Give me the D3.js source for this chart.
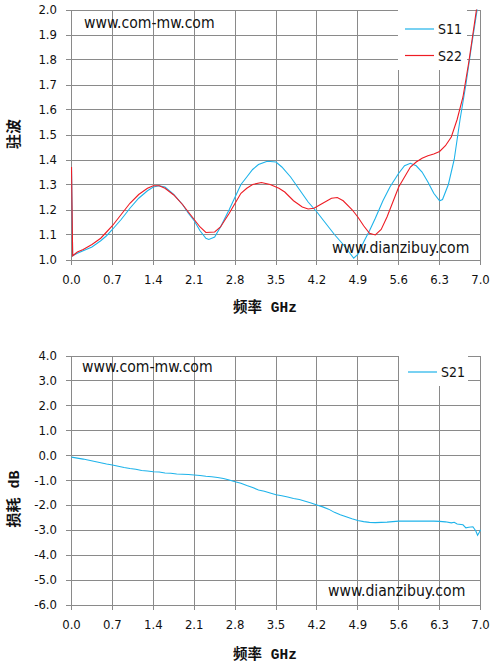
<!DOCTYPE html>
<html><head><meta charset="utf-8">
<script src="https://cdn.jsdelivr.net/npm/d3@7"></script>
<style>
html,body{margin:0;padding:0;background:#fff;}
svg{display:block;}
.lbl{font-family:"DejaVu Sans Condensed","DejaVu Sans",sans-serif;fill:#111;}
.ttl{font-family:"Liberation Mono","Noto Sans CJK SC",monospace;font-weight:bold;fill:#111;white-space:pre;}
</style></head>
<body>
<svg id="c" width="498" height="668"></svg>
<script>
// ---- data ----
const xTicks = [0.0,0.7,1.4,2.1,2.8,3.5,4.2,4.9,5.6,6.3,7.0];
const vswrTicks = [1.0,1.1,1.2,1.3,1.4,1.5,1.6,1.7,1.8,1.9,2.0];
const lossTicks = [4,3,2,1,0,-1,-2,-3,-4,-5,-6];

const s11Freq = [0,0.02,0.1,0.2,0.35,0.5,0.6,0.7,0.85,1.0,1.15,1.3,1.4,1.5,1.6,1.75,1.9,2.0,2.1,2.2,2.3,2.35,2.45,2.55,2.7,2.8,2.9,3.0,3.1,3.2,3.35,3.5,3.6,3.75,3.9,4.05,4.2,4.35,4.5,4.65,4.75,4.83,4.9,5.0,5.1,5.2,5.33,5.45,5.6,5.7,5.8,5.9,6.0,6.1,6.2,6.3,6.35,6.45,6.55,6.65,6.75,6.85,6.95,7.0];
const s11Vals = [1.37,1.015,1.025,1.035,1.05,1.075,1.095,1.12,1.16,1.205,1.245,1.275,1.29,1.295,1.29,1.26,1.22,1.185,1.155,1.115,1.085,1.08,1.09,1.13,1.2,1.25,1.3,1.33,1.36,1.38,1.393,1.39,1.37,1.33,1.28,1.23,1.19,1.145,1.10,1.06,1.03,1.005,1.02,1.07,1.115,1.165,1.235,1.29,1.345,1.375,1.385,1.375,1.35,1.31,1.265,1.235,1.24,1.30,1.40,1.56,1.70,1.86,2.01,2.1];

const s22Freq = [0,0.02,0.1,0.2,0.35,0.5,0.6,0.7,0.85,1.0,1.15,1.3,1.4,1.5,1.6,1.75,1.9,2.0,2.1,2.2,2.3,2.45,2.55,2.7,2.8,2.9,3.0,3.1,3.25,3.4,3.55,3.65,3.8,3.95,4.05,4.15,4.3,4.45,4.55,4.65,4.8,4.9,5.0,5.1,5.2,5.3,5.4,5.5,5.6,5.7,5.8,5.9,6.0,6.1,6.2,6.3,6.4,6.5,6.6,6.7,6.8,6.9,6.95,7.0];
const s22Vals = [1.37,1.015,1.03,1.04,1.06,1.085,1.11,1.135,1.18,1.225,1.26,1.285,1.295,1.295,1.285,1.258,1.22,1.19,1.16,1.13,1.108,1.11,1.13,1.185,1.225,1.265,1.285,1.30,1.308,1.30,1.285,1.27,1.235,1.21,1.202,1.205,1.225,1.245,1.248,1.235,1.2,1.17,1.135,1.105,1.098,1.12,1.17,1.23,1.29,1.33,1.37,1.39,1.405,1.415,1.422,1.432,1.455,1.49,1.56,1.65,1.79,1.95,2.03,2.1];

const s21Freq = [0,0.1,0.2,0.3,0.4,0.5,0.6,0.7,0.8,0.9,1.0,1.1,1.2,1.3,1.4,1.5,1.6,1.7,1.8,1.9,2.0,2.1,2.2,2.3,2.4,2.5,2.6,2.7,2.8,2.9,3.0,3.1,3.2,3.3,3.4,3.5,3.6,3.7,3.8,3.9,4.0,4.1,4.2,4.3,4.4,4.5,4.6,4.7,4.8,4.9,5.0,5.1,5.2,5.3,5.4,5.5,5.6,5.7,5.8,5.9,6.0,6.1,6.2,6.3,6.4,6.5,6.55,6.6,6.7,6.75,6.8,6.87,6.92,6.95,6.98,7.0];
const s21Vals = [-0.08,-0.12,-0.16,-0.21,-0.26,-0.31,-0.36,-0.40,-0.45,-0.50,-0.54,-0.57,-0.62,-0.64,-0.67,-0.68,-0.72,-0.73,-0.76,-0.77,-0.78,-0.80,-0.82,-0.85,-0.87,-0.90,-0.94,-1.00,-1.07,-1.13,-1.22,-1.30,-1.40,-1.45,-1.52,-1.59,-1.63,-1.68,-1.74,-1.78,-1.85,-1.92,-2.00,-2.08,-2.17,-2.30,-2.40,-2.48,-2.56,-2.63,-2.67,-2.70,-2.71,-2.70,-2.69,-2.67,-2.65,-2.65,-2.65,-2.65,-2.65,-2.65,-2.65,-2.66,-2.68,-2.72,-2.70,-2.77,-2.80,-2.92,-2.90,-2.88,-3.05,-3.22,-3.10,-3.00];

const svg = d3.select("#c");
const GRID = "#8a8a8a";
const BLUE = "#1eb3ea", RED = "#ee1c24";

function panel(cfg){
  const g = svg.append("g");
  const x = d3.scaleLinear().domain([0,7]).range([71.5,480.5]);
  const y = d3.scaleLinear().domain(cfg.ydom).range([cfg.bottom, cfg.top]);
  const cid = "clip"+cfg.id;
  svg.append("clipPath").attr("id",cid).append("rect")
    .attr("x",71).attr("y",cfg.top).attr("width",410).attr("height",cfg.bottom-cfg.top);
  // grid
  g.selectAll(".hg").data(cfg.yticks).join("line")
    .attr("x1",66).attr("x2",480.5).attr("y1",d=>Math.round(y(d))+0.5).attr("y2",d=>Math.round(y(d))+0.5)
    .attr("stroke",GRID).attr("shape-rendering","crispEdges");
  g.selectAll(".vg").data(xTicks).join("line")
    .attr("x1",d=>x(d)).attr("x2",d=>x(d)).attr("y1",cfg.top).attr("y2",cfg.bottom+5)
    .attr("stroke",GRID).attr("shape-rendering","crispEdges");
  // legend box
  g.append("rect").attr("x",cfg.leg.x).attr("y",cfg.leg.y).attr("width",cfg.leg.w).attr("height",cfg.leg.h).attr("fill","#fff");
  // lines
  const line = d3.line().x(d=>x(d[0])).y(d=>y(d[1]));
  cfg.series.forEach(s=>{
    g.append("path").datum(d3.zip(s.f,s.v)).attr("d",line)
      .attr("fill","none").attr("stroke",s.color).attr("stroke-width",1.1)
      .attr("clip-path","url(#"+cid+")");
  });
  // legend entries
  cfg.series.forEach((s,i)=>{
    const ly = cfg.leg.ly + i*26.5;
    g.append("line").attr("x1",cfg.leg.lx).attr("x2",cfg.leg.lx+29).attr("y1",ly).attr("y2",ly)
      .attr("stroke",s.color).attr("stroke-width",1.2);
    g.append("text").attr("class","lbl").attr("x",cfg.leg.lx+33).attr("y",ly+5)
      .attr("font-size",14).text(s.name);
  });
  // tick labels
  g.selectAll(".yl").data(cfg.yticks).join("text").attr("class","lbl")
    .attr("x",57).attr("y",d=>y(d)+4.5).attr("text-anchor","end").attr("font-size",13)
    .text(d=>d.toFixed(1));
  g.selectAll(".xl").data(xTicks).join("text").attr("class","lbl")
    .attr("x",d=>x(d)).attr("y",cfg.xlabY).attr("text-anchor","middle").attr("font-size",13)
    .text(d=>d.toFixed(1));
  // titles
  g.append("text").attr("class","ttl").attr("x",265).attr("y",cfg.xtitleY).attr("text-anchor","middle")
    .attr("font-size",14.5).text("频率 GHz");
  g.append("text").attr("class","ttl").attr("transform","translate(19,"+cfg.ytitleC+") rotate(-90)")
    .attr("text-anchor","middle").attr("font-size",15).text(cfg.ytitle);
  // watermarks
  g.append("text").attr("class","lbl").attr("x",cfg.wm1[0]).attr("y",cfg.wm1[1]).attr("font-size",15.6).text("www.com-mw.com");
  g.append("text").attr("class","lbl").attr("x",cfg.wm2[0]).attr("y",cfg.wm2[1]).attr("font-size",15.6).text("www.dianzibuy.com");
}

panel({id:1, ydom:[1,2], top:9.5, bottom:259.5, yticks:vswrTicks,
  series:[{name:"S11",f:s11Freq,v:s11Vals,color:BLUE},{name:"S22",f:s22Freq,v:s22Vals,color:RED}],
  leg:{x:398,y:10,w:69,h:60,lx:405,ly:29},
  xlabY:283.5, xtitleY:312, ytitle:"驻波", ytitleC:134,
  wm1:[84,28.3], wm2:[332,253.3]});

panel({id:2, ydom:[-6,4], top:355.5, bottom:604.5, yticks:lossTicks,
  series:[{name:"S21",f:s21Freq,v:s21Vals,color:BLUE}],
  leg:{x:399,y:356,w:69,h:30,lx:408,ly:372},
  xlabY:629, xtitleY:659, ytitle:"损耗 dB", ytitleC:499,
  wm1:[82,371.7], wm2:[328,596]});
</script>
</body></html>
